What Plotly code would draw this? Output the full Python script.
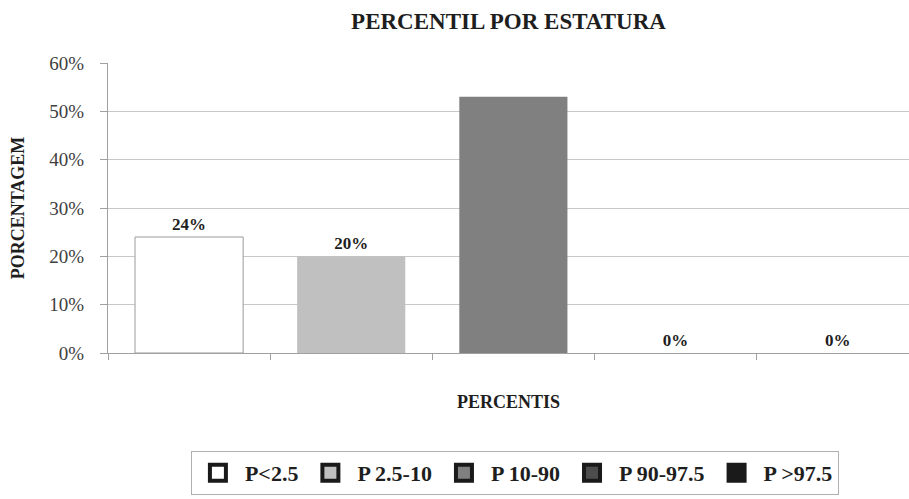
import plotly.graph_objects as go

# Percentile distribution by height
categories = ["P<2.5", "P 2.5-10", "P 10-90", "P 90-97.5", "P >97.5"]
values = [24, 20, 53, 0, 0]
value_labels = ["24%", "20%", "", "0%", "0%"]
fills = ["#ffffff", "#c0c0c0", "#808080", "#4d4d4d", "#1a1a1a"]
outline_widths = [1, 0, 0, 0, 0]

SERIF = "Liberation Serif, Times New Roman, serif"
INK = "#1e1e1e"

fig = go.Figure()

for cat, val, lab, fill, lw in zip(categories, values, value_labels, fills, outline_widths):
    fig.add_trace(go.Bar(
        x=[cat], y=[val], name=cat, legendgroup=cat, showlegend=False,
        width=0.667,
        marker=dict(color=fill, line=dict(color="#9a9a9a", width=lw)),
        text=[lab], textposition="outside", cliponaxis=False,
        textfont=dict(family=SERIF, size=17, color=INK, weight="bold"),
        hovertemplate="%{x}: %{y}%<extra></extra>",
    ))
    # legend entry with a larger bordered swatch
    fig.add_trace(go.Scatter(
        x=[None], y=[None], mode="markers", name=cat, legendgroup=cat,
        marker=dict(symbol="square", size=16, color=fill,
                    line=dict(color="#1a1a1a", width=4)),
    ))

fig.update_layout(
    width=909, height=499,
    margin=dict(l=108, r=0, t=63, b=146),
    paper_bgcolor="white", plot_bgcolor="white",
    barmode="relative",
    title=dict(text="<b>PERCENTIL POR ESTATURA</b>", x=0.5, xref="paper",
               y=1 - 21 / 499, yanchor="middle",
               font=dict(family=SERIF, size=23, color=INK)),
    font=dict(family=SERIF, color="#333333"),
    legend=dict(orientation="h", x=0.508, xanchor="center", y=-0.338, yanchor="top",
                bordercolor="#b0b0b0", borderwidth=1, bgcolor="white",
                font=dict(family=SERIF, size=22, color=INK, weight="bold"),
                itemwidth=44, tracegroupgap=0),
    showlegend=True,
)

fig.update_xaxes(
    type="category", categoryorder="array", categoryarray=categories,
    range=[-0.5, 4.44], showticklabels=False,
    ticks="outside", ticklen=6, tickcolor="#a0a0a0", tickson="boundaries",
    showline=True, linecolor="#a0a0a0", linewidth=1, showgrid=False,
    title=dict(text="<b>PERCENTIS</b>", standoff=42,
               font=dict(family=SERIF, size=18, color=INK)),
)

fig.update_yaxes(
    range=[0, 60], dtick=10, ticksuffix="%",
    ticks="outside", ticklen=7, tickcolor="#a0a0a0",
    ticklabelstandoff=12,
    showline=True, linecolor="#a0a0a0", linewidth=1,
    showgrid=True, gridcolor="#c8c8c8", gridwidth=1, zeroline=False,
    tickfont=dict(family=SERIF, size=19, color="#404040"),
    title=dict(text="<b>PORCENTAGEM</b>", standoff=20,
               font=dict(family=SERIF, size=18, color=INK)),
)

fig.write_html("out.html")
